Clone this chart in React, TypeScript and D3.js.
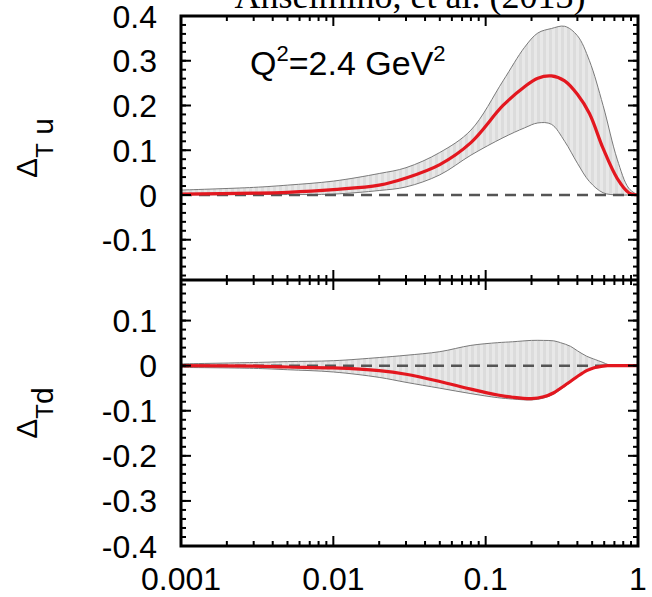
import React from 'react';
import * as d3 from 'd3';

// top panel: Delta_T u at Q^2 = 2.4 GeV^2
const xTop = [0.001, 0.003, 0.005, 0.01, 0.02, 0.03, 0.05, 0.08, 0.13, 0.18, 0.22, 0.27, 0.33, 0.4, 0.48, 0.59, 0.73, 0.87, 1];
const uCentral = [0.002, 0.004, 0.006, 0.012, 0.022, 0.038, 0.068, 0.117, 0.2, 0.242, 0.261, 0.266, 0.255, 0.225, 0.182, 0.104, 0.037, 0.005, 0];
const uUpper = [0.011, 0.017, 0.022, 0.031, 0.048, 0.061, 0.095, 0.145, 0.255, 0.33, 0.362, 0.372, 0.377, 0.356, 0.3, 0.2, 0.08, 0.015, 0];
const uLower = [0, 0.001, 0.001, 0.002, 0.01, 0.018, 0.045, 0.089, 0.128, 0.15, 0.161, 0.158, 0.12, 0.071, 0.03, 0.005, 0, 0, 0];

// bottom panel: Delta_T d
const xBot = [0.001, 0.003, 0.005, 0.01, 0.02, 0.03, 0.05, 0.08, 0.12, 0.15, 0.2, 0.24, 0.28, 0.31, 0.36, 0.4, 0.46, 0.51, 0.59, 0.63, 0.69, 0.8, 1];
const dCentral = [0, -0.001, -0.003, -0.005, -0.011, -0.019, -0.035, -0.052, -0.065, -0.07, -0.073, -0.069, -0.06, -0.05, -0.035, -0.024, -0.011, -0.005, -0.001, 0, 0, 0, 0];
const dUpper = [0.004, 0.007, 0.009, 0.011, 0.018, 0.023, 0.031, 0.045, 0.051, 0.053, 0.056, 0.056, 0.055, 0.051, 0.043, 0.033, 0.021, 0.015, 0.007, 0.003, 0, 0, 0];
const dLower = [-0.004, -0.006, -0.009, -0.014, -0.026, -0.037, -0.05, -0.062, -0.071, -0.074, -0.076, -0.072, -0.063, -0.053, -0.037, -0.025, -0.012, -0.006, -0.001, 0, 0, 0, 0];

const xTicks = [0.001, 0.01, 0.1, 1];
const xTickLabels = ['0.001', '0.01', '0.1', '1'];
const yTicksTop = [0.4, 0.3, 0.2, 0.1, 0, -0.1];
const yTicksBot = [0.1, 0, -0.1, -0.2, -0.3, -0.4];

const W = 652;
const H = 597;
const left = 181;
const right = 638;
const top = 16;
const mid = 280;
const bottom = 546;
const sans = '"Liberation Sans", Arial, Helvetica, sans-serif';

const x = d3.scaleLog().domain([0.001, 1]).range([left, right]);
const xMinor = d3.range(-3, 0).flatMap((e) => d3.range(2, 10).map((m) => m * Math.pow(10, e)));
const fmt = (v: number) => (v === 0 ? '0' : v.toFixed(1));

function Panel({ y0, y1, domain, xs, central, upper, lower, yTicks }) {
  const y = d3.scaleLinear().domain(domain).range([y1, y0]);
  const curve = d3.curveCatmullRom.alpha(0.5);
  const area = d3.area<number>()
    .x((_, i) => x(xs[i]))
    .y0((_, i) => y(lower[i]))
    .y1((d) => y(d))
    .curve(curve);
  const line = d3.line<number>()
    .x((_, i) => x(xs[i]))
    .y((d) => y(d))
    .curve(curve);
  const yMinor = d3.range(Math.ceil(domain[0] * 50), Math.floor(domain[1] * 50) + 1).map((k) => k / 50);
  const ticks = [];
  yMinor.forEach((v, i) => {
    ticks.push(<line key={'yl' + i} x1={left} x2={left + 5} y1={y(v)} y2={y(v)} />);
    ticks.push(<line key={'yr' + i} x1={right} x2={right - 5} y1={y(v)} y2={y(v)} />);
  });
  yTicks.forEach((v, i) => {
    ticks.push(<line key={'Yl' + i} x1={left} x2={left + 10} y1={y(v)} y2={y(v)} />);
    ticks.push(<line key={'Yr' + i} x1={right} x2={right - 10} y1={y(v)} y2={y(v)} />);
  });
  xMinor.forEach((v, i) => {
    ticks.push(<line key={'xb' + i} x1={x(v)} x2={x(v)} y1={y1} y2={y1 - 5} />);
    ticks.push(<line key={'xt' + i} x1={x(v)} x2={x(v)} y1={y0} y2={y0 + 5} />);
  });
  xTicks.forEach((v, i) => {
    ticks.push(<line key={'Xb' + i} x1={x(v)} x2={x(v)} y1={y1} y2={y1 - 10} />);
    ticks.push(<line key={'Xt' + i} x1={x(v)} x2={x(v)} y1={y0} y2={y0 + 10} />);
  });
  return (
    <g>
      <path d={area(upper)} fill="url(#hatch)" />
      <path d={line(upper)} fill="none" stroke="#7a7a7a" strokeWidth={1} />
      <path d={line(lower)} fill="none" stroke="#7a7a7a" strokeWidth={1} />
      <line x1={left} x2={right} y1={y(0)} y2={y(0)} stroke="#555" strokeWidth={2.5} strokeDasharray="11,7" />
      <path d={line(central)} fill="none" stroke="#e3171f" strokeWidth={3.2} />
      <g stroke="#000" strokeWidth={2}>{ticks}</g>
      {yTicks.map((v, i) => (
        <text key={i} x={157} y={y(v)} dy="0.36em" textAnchor="end" fontSize={32} fontFamily={sans}>
          {fmt(v)}
        </text>
      ))}
    </g>
  );
}

export default function App() {
  return (
    <svg width={W} height={H} style={{ position: 'absolute', left: 0, top: 0, background: '#fff' }}>
      <defs>
        <pattern id="hatch" width={6} height={6} patternUnits="userSpaceOnUse">
          <rect width={6} height={6} fill="#dcdcdc" />
          <rect width={3} height={6} fill="#e8e8e8" />
        </pattern>
      </defs>
      <text x={410} y={8} textAnchor="middle" fontSize={36} fontFamily='"Liberation Serif", "Times New Roman", serif'>
        Anselmino, et al. (2013)
      </text>
      <Panel y0={top} y1={mid} domain={[-0.19, 0.4]} xs={xTop} central={uCentral} upper={uUpper} lower={uLower} yTicks={yTicksTop} />
      <Panel y0={mid} y1={bottom} domain={[-0.4, 0.19]} xs={xBot} central={dCentral} upper={dUpper} lower={dLower} yTicks={yTicksBot} />
      <rect x={left} y={top} width={right - left} height={bottom - top} fill="none" stroke="#000" strokeWidth={3} />
      <line x1={left} x2={right} y1={mid} y2={mid} stroke="#000" strokeWidth={3} />
      {xTicks.map((v, i) => (
        <text key={i} x={x(v)} y={590} textAnchor="middle" fontSize={32} fontFamily={sans}>
          {xTickLabels[i]}
        </text>
      ))}
      <text x={250} y={75} fontSize={34} fontFamily={sans}>
        Q<tspan fontSize={22} dy={-14}>2</tspan>
        <tspan dy={14}>=2.4 GeV</tspan>
        <tspan fontSize={22} dy={-14}>2</tspan>
      </text>
      <text transform="translate(53,148) rotate(-90)" textAnchor="middle" fontSize={30} fontFamily={sans}>
        <tspan dy={-16}>Δ</tspan>
        <tspan fontSize={24} dy={16}>T</tspan>
        <tspan> u</tspan>
      </text>
      <text transform="translate(53,413) rotate(-90)" textAnchor="middle" fontSize={30} fontFamily={sans}>
        <tspan dy={-16}>Δ</tspan>
        <tspan fontSize={24} dy={16}>T</tspan>
        <tspan>d</tspan>
      </text>
    </svg>
  );
}
